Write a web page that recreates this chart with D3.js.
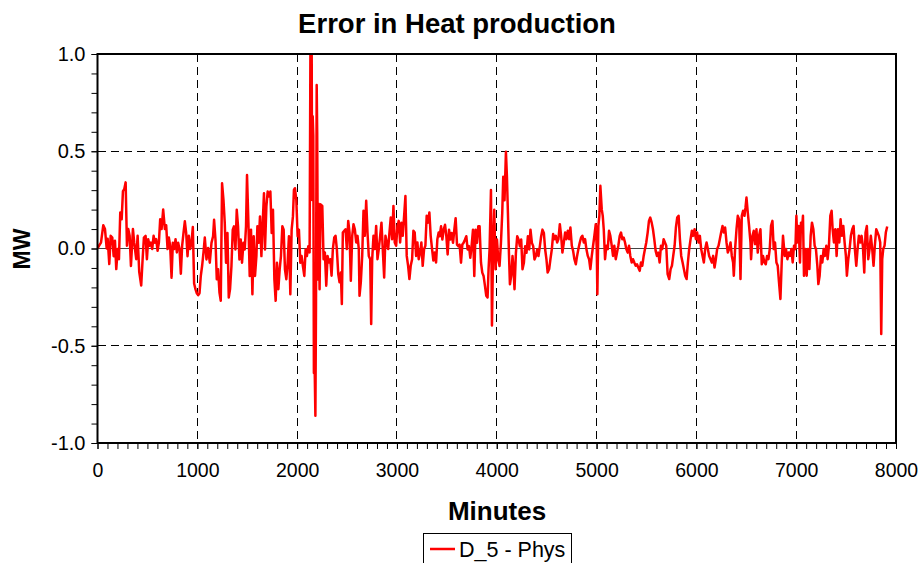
<!DOCTYPE html>
<html><head><meta charset="utf-8">
<script src="https://cdn.jsdelivr.net/npm/d3@7"></script>
<style>body{margin:0;background:#fff}svg{display:block}text{font-family:"Liberation Sans",Arial,sans-serif}</style>
</head><body>
<svg id="chart" width="918" height="563"></svg>
<script>
// ---- data (minutes, MW) ----
const part1=[[0,0],[15,0.014],[35,0.03],[58,0.12],[75,0.10],[92,0.0],[102,0.05],[118,-0.08],[132,0.065],[148,0.056],[162,-0.04],[175,0.04],[188,-0.106],[202,-0.003],[215,-0.055],[228,0.185],[242,0.15],[255,0.295],[268,0.305],[282,0.34],[295,0.014],[308,0.1],[322,0.065],[335,-0.09],[355,0.1],[368,0.03],[388,-0.055],[402,0.065],[418,-0.12],[438,-0.19],[452,-0.055],[465,0.056],[482,0.065],[495,-0.055],[508,0.048],[522,0.014],[535,0.03],[548,-0.003],[562,0.065],[575,0.03],[588,0.048],[602,-0.012],[615,0.03],[628,0.15],[642,0.1],[658,0.2],[675,0.1],[688,0.12],[702,-0.003],[715,0.056],[728,0.014],[742,-0.15],[755,0.03],[768,-0.003],[782,0.048],[795,-0.02],[808,0.03],[822,-0.003],[835,-0.13],[848,0.014],[862,0.082],[875,0.14],[888,0.082],[902,-0.04],[915,0.065],[928,-0.003],[942,0.03],[955,0.11],[968,-0.18],[982,-0.21],[995,-0.23],[1008,-0.24],[1022,-0.23],[1035,-0.14],[1048,-0.09],[1062,-0.02],[1075,0.056]];
const part2=[[1092,-0.056],[1108,0.003],[1125,-0.073],[1142,0.029],[1158,0.063],[1168,0.148],[1182,0.046],[1195,-0.158],[1208,-0.107],[1222,-0.226],[1235,-0.269],[1248,0.335],[1262,0.25],[1275,0.131],[1288,-0.073],[1302,0.080],[1315,-0.252],[1328,-0.209],[1342,-0.090],[1355,0.097],[1368,0.114],[1382,-0.005],[1395,0.199],[1408,0.114],[1422,-0.056],[1435,0.046],[1448,-0.073],[1462,0.029],[1475,-0.005],[1488,0.114],[1498,0.378],[1512,0.131],[1525,-0.141],[1538,0.097],[1552,-0.235],[1565,0.063],[1578,-0.141],[1592,-0.039],[1602,0.114],[1615,0.029],[1628,0.165],[1642,-0.039],[1655,0.131],[1668,0.284],[1678,-0.005],[1692,0.216],[1705,0.293],[1718,0.267],[1732,0.293],[1745,0.080],[1758,0.199],[1772,-0.158],[1785,-0.269],[1798,-0.073],[1812,-0.209],[1825,-0.107],[1838,-0.039],[1852,0.114],[1865,0.097],[1878,-0.107],[1892,-0.158],[1905,-0.073],[1918,0.063],[1932,-0.235],[1945,0.097],[1958,0.165],[1968,0.301],[1978,0.310],[1992,0.250],[2005,0.063],[2018,0.097],[2032,-0.073],[2045,-0.039],[2058,-0.090],[2072,-0.141],[2085,-0.005],[2098,-0.039],[2112,0.012],[2125,-0.02]];
const part3=[[2133,1.0],[2146,1.0],[2150,0.25],[2156,0.68],[2162,0.58],[2168,-0.64],[2176,-0.62],[2183,-0.86],[2189,-0.3],[2196,0.84],[2201,0.6],[2206,0.05],[2210,-0.16],[2215,0.23]];
const part4=[[2225,-0.21],[2235,0.227],[2252,0.219],[2265,-0.055],[2278,-0.021],[2292,-0.191],[2305,-0.038],[2318,-0.072],[2332,-0.055],[2345,-0.140],[2358,-0.003],[2372,0.056],[2385,0.065],[2398,-0.003],[2412,-0.132],[2425,-0.174],[2438,-0.123],[2448,-0.285],[2458,0.082],[2472,0.091],[2485,0.099],[2498,-0.003],[2512,0.142],[2525,0.082],[2538,-0.166],[2552,0.065],[2565,0.125],[2578,0.099],[2592,0.031],[2605,0.065],[2618,-0.003],[2625,-0.243],[2638,-0.174],[2652,-0.038],[2665,0.194],[2678,0.065],[2692,0.245],[2705,0.082],[2718,-0.038],[2732,-0.055],[2742,-0.388],[2752,-0.055],[2765,0.065],[2778,-0.003],[2792,0.116],[2805,-0.055],[2818,-0.003],[2832,0.065],[2845,0.133],[2858,-0.003],[2872,-0.149],[2885,0.065],[2898,0.031],[2912,-0.003],[2925,0.082],[2938,0.159],[2952,0.048],[2965,0.219],[2978,0.031],[2992,0.014],[3005,0.116],[3018,0.142],[3032,0.031],[3045,0.133],[3058,0.065],[3072,0.168],[3085,0.270],[3098,-0.038],[3112,-0.089],[3125,-0.157],[3138,-0.089],[3152,-0.055],[3165,0.091],[3178,0.082],[3192,-0.038],[3205,0.031],[3218,-0.055],[3232,-0.021],[3245,0.031],[3258,-0.089],[3272,-0.003],[3285,0.014],[3298,0.168],[3312,0.133],[3325,0.185],[3338,0.065],[3352,-0.003],[3365,-0.062],[3378,-0.021],[3392,-0.072],[3405,0.048],[3418,0.082]];
const part5=[[3428,0.063],[3442,0.114],[3455,0.046],[3468,0.097],[3482,0.122],[3495,0.063],[3508,-0.031],[3522,0.097],[3535,0.046],[3548,0.080],[3562,0.029],[3575,0.097],[3588,0.156],[3602,0.020],[3615,0.012],[3628,0.020],[3642,-0.073],[3655,0.020],[3668,0.029],[3682,0.046],[3695,0.063],[3708,-0.005],[3722,0.012],[3735,-0.048],[3748,0.012],[3762,0.097],[3775,-0.141],[3788,0.097],[3802,0.029],[3815,0.114],[3828,0.114],[3842,-0.073],[3855,-0.124],[3868,-0.141],[3882,-0.192],[3895,-0.243],[3908,-0.252],[3918,-0.107],[3928,-0.005],[3942,0.301],[3952,-0.396],[3965,0.046],[3975,0.199],[3988,-0.107],[4002,0.046],[4015,-0.056],[4028,-0.090],[4042,0.029],[4055,0.182],[4065,0.369],[4078,0.248],[4092,0.497],[4102,0.369],[4112,0.182],[4122,-0.022],[4132,-0.184],[4145,-0.141],[4158,-0.039],[4168,-0.107],[4178,-0.209],[4192,-0.022],[4205,0.063],[4218,0.046],[4232,0.012],[4245,0.046],[4258,-0.107],[4272,-0.073],[4285,0.012],[4298,-0.022],[4312,0.063],[4325,-0.005],[4338,0.097],[4352,0.029],[4365,0.012],[4378,-0.056],[4392,-0.039],[4405,-0.005],[4418,-0.039],[4432,0.012],[4445,0.063],[4458,0.097],[4472,0.080],[4485,-0.005],[4498,-0.056],[4510,-0.124],[4525,-0.106]];
const part6=[[4538,-0.055],[4552,-0.003],[4565,0.074],[4578,0.048],[4592,0.065],[4605,0.031],[4618,0.048],[4632,0.125],[4645,0.065],[4658,-0.021],[4672,0.031],[4685,0.082],[4698,0.048],[4712,0.091],[4725,0.048],[4738,0.108],[4752,0.014],[4765,-0.012],[4778,-0.055],[4792,-0.081],[4805,-0.038],[4818,-0.003],[4832,0.031],[4845,0.056],[4858,0.065],[4872,0.031],[4885,0.048],[4898,-0.003],[4912,-0.038],[4925,-0.055],[4938,-0.106],[4952,-0.038],[4965,0.014],[4978,0.065],[4992,0.125],[5002,-0.003],[5008,-0.235],[5018,0.116],[5028,0.168],[5038,0.322],[5052,0.201],[5062,0.168],[5072,0.099],[5085,-0.055],[5098,0.014],[5112,-0.003],[5125,0.091],[5138,0.065],[5152,0.014],[5165,-0.038],[5178,0.014],[5192,-0.055],[5205,-0.021],[5218,0.014],[5232,0.065],[5245,0.082],[5258,0.048],[5272,0.056],[5285,0.031],[5298,-0.003],[5312,-0.021],[5325,0.014],[5338,-0.038],[5352,-0.072],[5365,-0.055],[5378,-0.072],[5392,-0.089],[5405,-0.081],[5418,-0.098],[5432,-0.115],[5445,-0.072],[5458,-0.089],[5472,-0.038],[5485,-0.003],[5498,0.031],[5512,0.082],[5525,0.142],[5538,0.159],[5552,0.133],[5565,0.099],[5578,0.048],[5592,-0.012],[5605,-0.038],[5618,-0.021],[5632,-0.072],[5645,0.014],[5658,-0.003],[5672,0.048],[5685,0.031],[5698,0.014],[5712,-0.132]];
const part7=[[5728,-0.157],[5742,-0.106],[5755,-0.089],[5768,-0.038],[5782,0.014],[5795,0.108],[5808,0.159],[5822,0.168],[5835,0.048],[5848,-0.038],[5862,-0.072],[5875,-0.106],[5888,-0.140],[5902,-0.157],[5915,-0.072],[5928,-0.003],[5942,0.048],[5955,0.091],[5968,0.065],[5982,0.099],[5995,0.048],[6008,0.082],[6022,0.031],[6035,0.065],[6048,-0.003],[6062,-0.038],[6075,-0.072],[6088,-0.003],[6102,0.031],[6115,-0.003],[6128,-0.038],[6142,-0.055],[6155,-0.072],[6168,-0.038],[6182,-0.098],[6195,-0.055],[6208,-0.003],[6222,0.014],[6235,0.048],[6248,0.082],[6262,0.116],[6275,0.082],[6288,0.108],[6302,0.031],[6315,-0.021],[6328,-0.003],[6342,0.031],[6355,-0.038],[6368,-0.072],[6375,-0.140],[6388,-0.003],[6402,0.099],[6415,0.168],[6428,0.150],[6442,-0.157],[6455,0.168],[6468,0.194],[6482,0.168],[6492,0.210],[6502,0.262],[6515,0.185],[6528,0.116],[6542,0.031],[6548,-0.055],[6562,0.065],[6575,0.091],[6588,0.022],[6602,0.099],[6615,-0.021],[6628,0.065],[6642,0.099],[6655,-0.081],[6668,-0.038],[6682,-0.072],[6695,-0.081],[6708,-0.038],[6722,-0.055],[6735,-0.003],[6748,0.116],[6762,0.142],[6775,-0.003],[6788,0.031],[6802,-0.072],[6815,-0.089],[6828,-0.174],[6842,-0.260],[6855,-0.072],[6868,0.065]];
const part8=[[6885,-0.038],[6898,-0.003],[6912,-0.055],[6925,-0.021],[6938,-0.038],[6952,-0.003],[6965,-0.072],[6978,0.014],[6992,-0.003],[7002,0.168],[7012,0.031],[7025,0.116],[7038,-0.072],[7048,0.133],[7058,0.099],[7068,0.168],[7078,-0.140],[7092,-0.003],[7105,-0.140],[7118,-0.003],[7132,-0.106],[7145,0.065],[7158,0.133],[7172,0.099],[7185,0.014],[7198,-0.003],[7212,-0.089],[7222,-0.183],[7235,-0.140],[7248,-0.038],[7262,-0.072],[7275,-0.003],[7288,-0.038],[7302,0.014],[7315,-0.055],[7328,0.014],[7342,0.168],[7355,0.194],[7365,0.099],[7378,0.031],[7392,0.099],[7405,-0.038],[7418,0.099],[7432,0.031],[7445,0.150],[7458,0.065],[7472,0.116],[7485,0.031],[7498,-0.038],[7508,-0.140],[7522,-0.055],[7535,-0.003],[7548,0.065],[7562,0.099],[7575,0.116],[7588,-0.003],[7602,-0.089],[7615,-0.003],[7628,0.065],[7642,0.031],[7655,0.065],[7668,0.014],[7682,-0.123],[7695,0.082],[7708,0.116],[7722,-0.055],[7735,-0.003],[7748,0.065],[7762,-0.003],[7775,-0.089],[7788,0.014],[7802,0.099],[7815,0.082],[7828,0.065],[7842,0.031],[7852,-0.440],[7862,-0.055],[7872,-0.003],[7885,0.014],[7898,0.082],[7912,0.113]];
const seriesName="D_5 - Phys";
const xTicks=[0,1000,2000,3000,4000,5000,6000,7000,8000];
const yTicks=[-1,-0.5,0,0.5,1];
const yTickLabels=["-1.0","-0.5","0.0","0.5","1.0"];
const titleText="Error in Heat production", xTitle="Minutes", yTitle="MW";

const data=[].concat(part1,part2,part3,part4,part5,part6,part7,part8);

const svg=d3.select("#chart");
const L=97.5,R=896,T=54,B=443;
const x=d3.scaleLinear().domain([0,8000]).range([L,R]);
const y=d3.scaleLinear().domain([-1,1]).range([B,T]);

svg.append("rect").attr("width",918).attr("height",563).attr("fill","#fff");

// grid
const grid=svg.append("g");
grid.selectAll("line.vx").data(xTicks.filter(d=>d>0&&d<8000)).join("line")
  .attr("x1",d=>x(d)).attr("x2",d=>x(d)).attr("y1",T).attr("y2",B)
  .attr("stroke","#000").attr("stroke-width",1).attr("stroke-dasharray","8,5").attr("shape-rendering","crispEdges");
grid.selectAll("line.hy").data(yTicks.filter(d=>Math.abs(d)===0.5)).join("line")
  .attr("x1",L).attr("x2",R).attr("y1",d=>y(d)).attr("y2",d=>y(d))
  .attr("stroke","#000").attr("stroke-width",1).attr("stroke-dasharray","8,5").attr("shape-rendering","crispEdges");
grid.append("line").attr("x1",L).attr("x2",R).attr("y1",y(0)).attr("y2",y(0))
  .attr("stroke","#444").attr("stroke-width",1).attr("shape-rendering","crispEdges");

// minor ticks
svg.append("g").attr("transform",`translate(0,${B})`)
  .call(d3.axisBottom(x).tickValues(d3.range(0,8001,100)).tickSize(6).tickFormat(""))
  .call(g=>g.select(".domain").remove()).selectAll("line").attr("stroke","#000");
svg.append("g").attr("transform",`translate(${L},0)`)
  .call(d3.axisLeft(y).tickValues(d3.range(-10,11).map(d=>d/10)).tickSize(6).tickFormat(""))
  .call(g=>g.select(".domain").remove()).selectAll("line").attr("stroke","#000");

// major axes with labels
const xa=svg.append("g").attr("transform",`translate(0,${B})`)
  .call(d3.axisBottom(x).tickValues(xTicks).tickSize(6).tickPadding(14).tickFormat(d3.format("d")));
xa.select(".domain").remove();
xa.selectAll("text").attr("font-size",19.5).attr("fill","#000").attr("font-family","Liberation Sans, Arial, sans-serif");
const ya=svg.append("g").attr("transform",`translate(${L},0)`)
  .call(d3.axisLeft(y).tickValues(yTicks).tickSize(6).tickPadding(6).tickFormat((d,i)=>yTickLabels[i]));
ya.select(".domain").remove();
ya.selectAll("text").attr("font-size",20).attr("fill","#000").attr("font-family","Liberation Sans, Arial, sans-serif");

// data line
svg.append("clipPath").attr("id","clip").append("rect").attr("x",L).attr("y",T-1).attr("width",R-L).attr("height",B-T+2);
svg.append("path").datum(data).attr("clip-path","url(#clip)")
  .attr("fill","none").attr("stroke","#ff0000").attr("stroke-width",2.5).attr("stroke-linejoin","round")
  .attr("d",d3.line().x(d=>x(d[0])).y(d=>y(d[1])));

// frame
svg.append("rect").attr("x",L).attr("y",T).attr("width",R-L).attr("height",B-T)
  .attr("fill","none").attr("stroke","#000").attr("stroke-width",2);

// titles
svg.append("text").attr("x",457).attr("y",33).attr("text-anchor","middle")
  .attr("font-size",27.5).attr("font-weight","bold").text(titleText);
svg.append("text").attr("x",497).attr("y",520).attr("text-anchor","middle")
  .attr("font-size",26).attr("font-weight","bold").text(xTitle);
svg.append("text").attr("transform","translate(30,249) rotate(-90)").attr("text-anchor","middle")
  .attr("font-size",23).attr("font-weight","bold").text(yTitle);

// legend
const lg=svg.append("g");
lg.append("rect").attr("x",423.5).attr("y",533.5).attr("width",148).attr("height",40)
  .attr("fill","#fff").attr("stroke","#000").attr("stroke-width",1);
lg.append("line").attr("x1",430).attr("x2",455).attr("y1",549).attr("y2",549)
  .attr("stroke","#ff0000").attr("stroke-width",2.5);
lg.append("text").attr("x",459).attr("y",557).attr("font-size",21.5).text(seriesName);
</script>
</body></html>
